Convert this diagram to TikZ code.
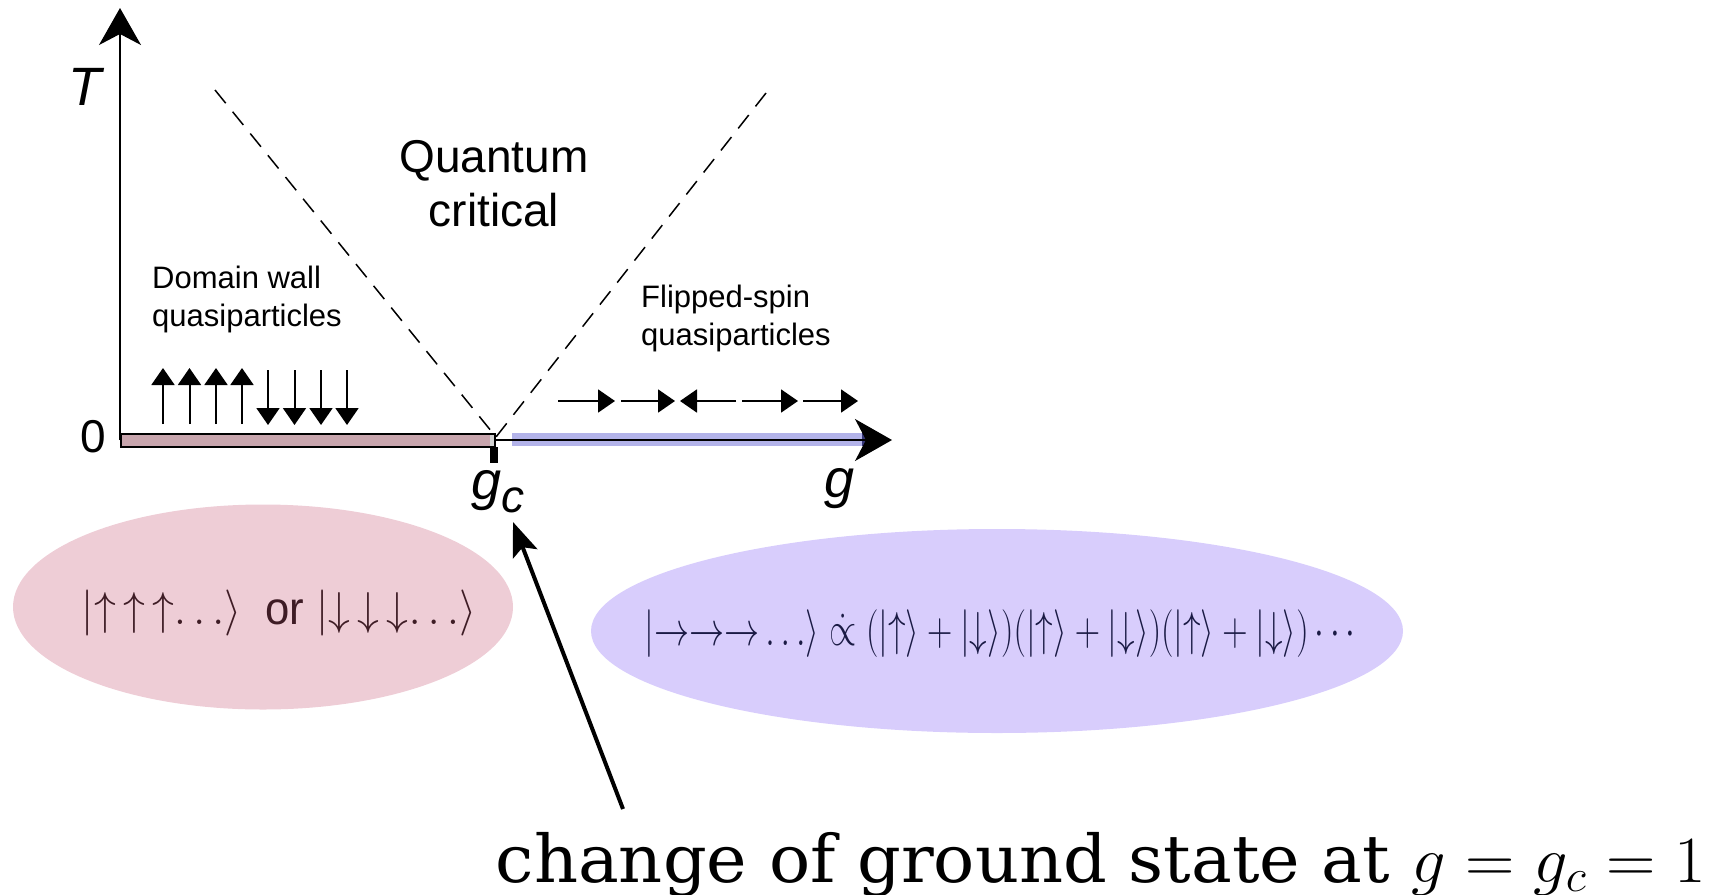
\documentclass[tikz,border=0pt]{standalone}
\usepackage[no-math]{fontspec}
\setmainfont{Liberation Sans}
\newfontfamily\slabfont{DejaVu Serif}
\usetikzlibrary{arrows.meta,shapes.geometric}
\definecolor{pinkbar}{HTML}{C8A5AD}
\definecolor{pinkell}{HTML}{EECDD6}
\definecolor{blueell}{HTML}{D8CDFC}
\definecolor{bluebar}{HTML}{B3B3E9}
\definecolor{navyend}{HTML}{363677}
\definecolor{pinktext}{HTML}{3E1C25}
\definecolor{bluetext}{HTML}{1A1A44}
\tikzset{
  axisline/.style={line width=1.4pt, -{Stealth[length=37pt,width=42pt,inset=11pt]}},
  spinarrow/.style={line width=2pt, -{Triangle[length=17pt,width=23pt]}},
  dashline/.style={line width=1.5pt, dash pattern=on 17pt off 11pt},
  pointer/.style={line width=4pt, -{Stealth[length=34pt,width=26pt,inset=7pt]}},
  bigsans/.style={font=\fontsize{46}{54}\selectfont},
  smallsans/.style={font=\fontsize{31}{38}\selectfont},
  axislabel/.style={font=\fontsize{54}{60}\selectfont\itshape, inner sep=0pt},
  mathsmall/.style={font=\fontsize{20.74}{25}\selectfont, inner sep=0pt},
}
\begin{document}
\begin{tikzpicture}[x=1pt,y=-1pt]
\useasboundingbox (0,0) rectangle (1715,894);
% ellipses
\node[ellipse,draw=none,fill=pinkell,minimum width=500pt,minimum height=205pt,inner sep=0pt] (pinkE) at (263,607) {};
\node[ellipse,draw=none,fill=blueell,minimum width=812pt,minimum height=204pt,inner sep=0pt] (blueE) at (997,631) {};
% coordinates
\coordinate (O) at (120,440);
\coordinate (Ttip) at (120,8);
\coordinate (gtip) at (892,440);
\coordinate (crit) at (496,437);
\coordinate (dl) at (215,90);
\coordinate (dr) at (766,93);
% blue bar
\fill[bluebar] (512,433) rectangle (880,446);
\fill[navyend] (862,433) rectangle (880,446);
% axes
\draw[axisline] (O) -- (gtip);
\draw[axisline] (O) -- (Ttip);
% pink bar
\draw[fill=pinkbar,line width=1.2pt] (121,434) rectangle (495,447);
\fill[gray!35] (490,435) rectangle (494.4,446.4);
\fill[black] (490,447) rectangle (498,463);
% dashed lines
\draw[dashline] (dl) -- (crit);
\draw[dashline] (dr) -- (crit);
% labels
\node[axislabel,anchor=base west] (Tlab) at (68,105) {T};
\node[font=\fontsize{46}{54}\selectfont,inner sep=0pt,anchor=base west] (zero) at (80,452) {0};
\node[axislabel,anchor=base west] (gclab) at (471,499) {g\raisebox{-13pt}{\fontsize{46}{46}\selectfont c}};
\node[axislabel,anchor=base west] (glab) at (824,497) {g};
\node[bigsans,align=center] (qc) at (494,184) {Quantum\\critical};
\node[smallsans,align=left,anchor=west,inner sep=0pt] (dw) at (152,299) {Domain wall\\quasiparticles};
\node[smallsans,align=left,anchor=west,inner sep=0pt] (fs) at (641,318) {Flipped-spin\\quasiparticles};
% spins up / down
\foreach \x in {163,189.5,216,242} \draw[spinarrow] (\x,424) -- (\x,368);
\foreach \x in {268,294.5,321,347} \draw[spinarrow] (\x,370) -- (\x,425);
% spins sideways
\draw[spinarrow] (558,401) -- (615,401);
\draw[spinarrow] (621,401) -- (675,401);
\draw[spinarrow] (736,401) -- (680,401);
\draw[spinarrow] (742,401) -- (798,401);
\draw[spinarrow] (803,401) -- (858,401);
% ellipse texts
\node[mathsmall,text=pinktext] (pinkT) at (279,613)
  {\resizebox{394pt}{2.22\height}{$|{\uparrow}\,{\uparrow}\,{\uparrow}{\ldots}\rangle$\ \ or\ $|{\downarrow}\,{\downarrow}\,{\downarrow}{\ldots}\rangle$}};
\node[mathsmall,text=bluetext] (blueT) at (1000,634)
  {\resizebox{711pt}{2.3\height}{$|{\rightarrow}{\rightarrow}{\rightarrow}\ldots\rangle\mathrel{\dot{\propto}}(|{\uparrow}\rangle+|{\downarrow}\rangle)(|{\uparrow}\rangle+|{\downarrow}\rangle)(|{\uparrow}\rangle+|{\downarrow}\rangle)\cdots$}};
% caption
\node[mathsmall,anchor=base] (cap) at (1101,882)
  {\resizebox{1210pt}{3.18\height}{\slabfont change of ground state at $g=g_c=1$}};
\coordinate (pstart) at (623,809);
\coordinate (pend) at (513,522);
\draw[pointer] (pstart) -- (pend);
\end{tikzpicture}
\end{document}
